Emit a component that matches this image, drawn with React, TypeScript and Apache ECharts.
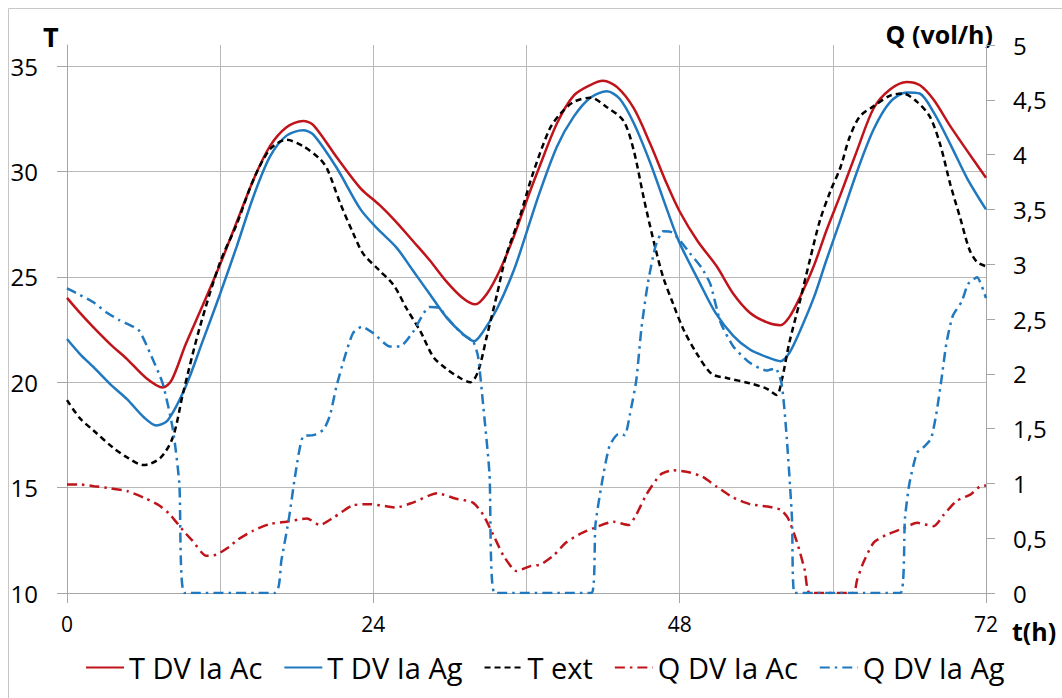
import React, { useEffect, useRef } from 'react';
import * as echarts from 'echarts';

// ---- data (hours, values) ----
const tTAc = [0, 1, 2, 3.4, 4.7, 6.2, 7.5, 8.2, 9.3, 10.6, 12, 13.3, 14.6, 15.9, 17.2, 18.5, 19.3, 21.1, 23, 24.5, 25.8, 27.1, 28.4, 29.7, 31, 32, 32.9, 33.9, 35, 36, 37, 38.4, 39.7, 41, 42, 43.1, 44.4, 45.7, 47, 48, 49.4, 50.9, 52.2, 53.5, 54.8, 55.9, 56.6, 57.4, 58.5, 59.5, 60.6, 61.9, 63.2, 64.5, 65.8, 66.8, 67.9, 69.2, 70.5, 72];
const vTAc = [24.0, 23.3, 22.65, 21.8, 21.1, 20.2, 19.75, 20.1, 21.8, 23.6, 25.6, 27.6, 29.6, 31.2, 32.1, 32.4, 32.2, 30.7, 29.2, 28.4, 27.6, 26.7, 25.8, 24.8, 24.0, 23.7, 24.2, 25.3, 26.9, 28.6, 30.2, 32.3, 33.6, 34.1, 34.3, 34.0, 33.0, 31.3, 29.4, 28.1, 26.7, 25.5, 24.2, 23.3, 22.85, 22.7, 23.1, 24.0, 25.5, 27.2, 28.9, 31.0, 33.0, 33.9, 34.25, 34.1, 33.4, 32.15, 31.0, 29.7];

const tTAg = [0, 1, 2.1, 3.4, 4.7, 6, 7, 7.9, 9.3, 10.6, 12, 13.3, 14.6, 15.9, 17.2, 18.5, 19.3, 21.1, 23, 24.3, 25.8, 27.1, 28.4, 29.7, 31, 31.9, 32.6, 33.7, 35, 36, 37, 38.4, 39.7, 41, 42.3, 43.3, 44.4, 45.7, 47, 48, 49.5, 50.8, 52.2, 53.5, 54.8, 55.9, 56.6, 57.4, 58.5, 59.5, 60.6, 61.9, 63.2, 64.5, 65.8, 66.8, 67.9, 69.2, 70.5, 72];
const vTAg = [22.05, 21.35, 20.7, 19.9, 19.2, 18.35, 17.95, 18.2, 19.8, 21.9, 24.2, 26.45, 28.8, 30.7, 31.7, 31.95, 31.75, 30.2, 28.2, 27.3, 26.4, 25.3, 24.2, 23.1, 22.3, 21.95, 22.4, 23.5, 25.3, 27.1, 28.95, 31.2, 32.6, 33.5, 33.8, 33.45, 32.3, 30.4, 28.2, 26.6, 24.8, 23.3, 22.2, 21.55, 21.2, 21.0, 21.4, 22.4, 24.0, 25.8, 27.7, 30.0, 32.0, 33.3, 33.75, 33.7, 32.8, 31.3, 29.7, 28.2];

const tText = [0, 1, 2.1, 3.6, 4.8, 6, 7.3, 8.3, 9.1, 10.4, 12, 13.3, 14.6, 15.9, 17.2, 18.5, 19.8, 20.4, 21.4, 22.4, 23.2, 24.4, 25.6, 26.6, 27.7, 28.7, 29.7, 30.8, 31.6, 32.2, 32.9, 33.7, 34.4, 35.5, 36.5, 37.8, 38.6, 39.7, 41, 42.3, 43.6, 44.4, 45.2, 46, 46.7, 47.5, 48.3, 49.3, 50.5, 51.7, 53.5, 54.8, 55.6, 56, 56.6, 57.4, 58.2, 59, 59.8, 60.6, 61.3, 62.1, 63.2, 64.5, 65.5, 66.6, 67.6, 68.4, 69.2, 70, 70.7, 71.3, 72];
const vText = [19.15, 18.3, 17.7, 16.9, 16.4, 16.07, 16.4, 17.4, 19.5, 22.6, 25.7, 27.5, 29.6, 31.05, 31.5, 31.2, 30.6, 30.1, 28.5, 27.1, 26.1, 25.35, 24.6, 23.5, 22.4, 21.2, 20.65, 20.2, 20.0, 20.5, 22.2, 24.2, 26.0, 27.9, 29.9, 32.0, 32.7, 33.3, 33.5, 33.05, 32.4, 31.0, 28.7, 26.6, 25.0, 23.7, 22.5, 21.4, 20.4, 20.2, 19.95, 19.7, 19.4, 20.1, 21.9, 23.8, 25.8, 27.7, 29.05, 30.2, 31.6, 32.6, 33.1, 33.6, 33.7, 33.3, 32.6, 31.3, 29.4, 27.75, 26.3, 25.7, 25.5];

const tQAc = [0, 1, 2.1, 3.4, 4.7, 6.2, 7.2, 8, 9.1, 9.8, 10.9, 11.7, 12.7, 13.3, 14.6, 15.9, 17.2, 18.8, 19.8, 20.9, 22.4, 23.8, 25.1, 25.8, 27.1, 29, 30.5, 31.8, 32.6, 33.4, 34.2, 35.2, 36.3, 37.1, 38.1, 39.1, 40.2, 41.2, 42.8, 44, 44.6, 45.4, 46.5, 47.5, 48.8, 49.8, 50.9, 52.2, 53.5, 54.8, 55.9, 56.5, 57.2, 57.8, 58.2, 61.6, 61.9, 62.4, 63.2, 64.2, 65.5, 66.6, 67.9, 68.7, 69.7, 70.8, 71.5, 72];
const vQAc = [0.99, 0.99, 0.975, 0.955, 0.93, 0.86, 0.8, 0.725, 0.57, 0.48, 0.34, 0.35, 0.42, 0.48, 0.57, 0.63, 0.65, 0.68, 0.62, 0.69, 0.8, 0.81, 0.79, 0.78, 0.825, 0.91, 0.86, 0.825, 0.715, 0.53, 0.34, 0.2, 0.245, 0.26, 0.34, 0.46, 0.54, 0.59, 0.65, 0.62, 0.715, 0.9, 1.08, 1.12, 1.1, 1.06, 0.97, 0.87, 0.81, 0.79, 0.76, 0.68, 0.46, 0.21, 0, 0, 0.12, 0.28, 0.46, 0.53, 0.59, 0.64, 0.61, 0.715, 0.84, 0.9, 0.97, 0.98];

const tQAg = [0, 1, 2.1, 3.1, 4.1, 5.6, 6.5, 7.5, 8.3, 8.8, 9.2, 16.3, 16.8, 17.4, 17.9, 18.5, 19.3, 20.1, 20.6, 21.1, 21.7, 22.4, 23.1, 24, 25.3, 26.1, 27.1, 28.4, 29.2, 29.7, 31, 31.8, 32.2, 32.6, 33.1, 33.5, 41.1, 41.4, 41.9, 42.5, 43.2, 43.7, 44.1, 44.6, 45, 45.5, 46.1, 46.7, 47.4, 48, 48.8, 49.7, 50.4, 51.2, 52.2, 53.5, 54.8, 55.5, 56, 56.4, 56.8, 57, 65.3, 65.65, 66, 66.6, 67.2, 67.7, 68.1, 68.5, 68.9, 69.4, 70.1, 70.6, 71.3, 72];
const vQAg = [2.78, 2.72, 2.65, 2.56, 2.49, 2.4, 2.19, 1.91, 1.49, 1.0, 0, 0, 0.3, 0.69, 1.09, 1.43, 1.44, 1.49, 1.62, 1.88, 2.13, 2.37, 2.43, 2.37, 2.25, 2.25, 2.38, 2.61, 2.6, 2.52, 2.36, 2.3, 2.16, 1.72, 1.09, 0, 0, 0.62, 1.0, 1.34, 1.45, 1.44, 1.63, 1.94, 2.41, 2.82, 3.16, 3.3, 3.29, 3.22, 3.1, 2.97, 2.82, 2.47, 2.25, 2.1, 2.03, 2.05, 1.9, 1.4, 0.68, 0, 0, 0.68, 1.0, 1.28, 1.34, 1.41, 1.63, 1.94, 2.28, 2.53, 2.66, 2.82, 2.88, 2.69];

const seriesNames = ['T DV Ia Ac', 'T DV Ia Ag', 'T ext', 'Q DV Ia Ac', 'Q DV Ia Ag'];
const xTicks = [0, 24, 48, 72];
const leftTicks = [10, 15, 20, 25, 30, 35];

const FONT = '"Open Sans", "DejaVu Sans", sans-serif';
const RED = '#c0141b';
const BLUE = '#2078bf';
const GRID = '#b8b8b8';
const AXIS = '#a6a6a6';

const zip = (t: number[], v: number[]) => t.map((x, i) => [x, v[i]]);

export default function App() {
  const ref = useRef<HTMLDivElement>(null);
  useEffect(() => {
    const chart = echarts.init(ref.current!, null, { renderer: 'svg' });
    const mk = (name: string, t: number[], v: number[], color: string, type: any, axis: number, smooth: number) => ({
      name,
      type: 'line',
      yAxisIndex: axis,
      data: zip(t, v),
      smooth,
      symbol: 'none',
      lineStyle: { color, width: 2.5, type },
      itemStyle: { color },
    });
    chart.setOption({
      animation: false,
      backgroundColor: '#ffffff',
      textStyle: { fontFamily: FONT },
      grid: { left: 67, top: 45, right: 76, bottom: 105, containLabel: false },
      legend: {
        left: 80,
        top: 648,
        itemWidth: 38,
        itemHeight: 14,
        itemGap: 21,
        data: seriesNames,
        itemStyle: { opacity: 0 },
        textStyle: { fontSize: 29, color: '#000', fontFamily: FONT },
      },
      xAxis: {
        type: 'value',
        min: xTicks[0],
        max: xTicks[xTicks.length - 1],
        interval: 24,
        axisLine: { show: true, lineStyle: { color: AXIS, width: 1 } },
        axisTick: { show: true, length: 10, lineStyle: { color: AXIS } },
        axisLabel: { fontSize: 21, color: '#000', margin: 20, fontFamily: FONT },
        splitLine: { show: true, lineStyle: { color: GRID, width: 1 } },
        minorTick: { show: false, splitNumber: 2 },
        minorSplitLine: { show: true, lineStyle: { color: GRID, width: 1 } },
      },
      yAxis: [
        {
          type: 'value',
          position: 'left',
          min: 10,
          max: 36,
          interval: 5,
          axisLine: { show: true, lineStyle: { color: AXIS, width: 1 } },
          axisTick: { show: true, length: 10, lineStyle: { color: AXIS }, customValues: leftTicks },
          axisLabel: { fontSize: 24, color: '#000', margin: 29, fontFamily: FONT, customValues: leftTicks },
          splitLine: { show: true, lineStyle: { color: GRID, width: 1 } },
        },
        {
          type: 'value',
          position: 'right',
          min: 0,
          max: 5,
          interval: 0.5,
          axisLine: { show: true, lineStyle: { color: AXIS, width: 1 } },
          axisTick: { show: true, length: 9, lineStyle: { color: AXIS } },
          axisLabel: {
            fontSize: 24,
            color: '#000',
            margin: 27,
            fontFamily: FONT,
            formatter: (v: number) => String(v).replace('.', ','),
          },
          splitLine: { show: false },
        },
      ],
      graphic: [
        {
          type: 'rect',
          z: -10,
          shape: { x: 8.5, y: 8.5, width: 1100, height: 1100 },
          style: { fill: 'none', stroke: '#c6c6c6', lineWidth: 1 },
        },
        {
          type: 'text',
          x: 43,
          y: 36,
          style: { text: 'T', fontSize: 27, fontWeight: 'bold', fontFamily: FONT, fill: '#000', verticalAlign: 'middle' },
        },
        {
          type: 'text',
          x: 993,
          y: 34,
          style: { text: 'Q (vol/h)', fontSize: 25, fontWeight: 'bold', fontFamily: FONT, fill: '#000', align: 'right', verticalAlign: 'middle' },
        },
        {
          type: 'text',
          x: 1012,
          y: 631,
          style: { text: 't(h)', fontSize: 25, fontWeight: 'bold', fontFamily: FONT, fill: '#000', verticalAlign: 'middle' },
        },
      ],
      series: [
        mk(seriesNames[0], tTAc, vTAc, RED, 'solid', 0, 0.3),
        mk(seriesNames[1], tTAg, vTAg, BLUE, 'solid', 0, 0.3),
        mk(seriesNames[2], tText, vText, '#000000', [6, 4], 0, 0.3),
        mk(seriesNames[3], tQAc, vQAc, RED, [10, 5, 2.5, 5], 1, 0.2),
        mk(seriesNames[4], tQAg, vQAg, BLUE, [10, 5, 2.5, 5], 1, 0.2),
      ],
    });
    return () => chart.dispose();
  }, []);
  return (
    <div
      ref={ref}
      style={{ position: 'fixed', left: 0, top: 0, width: 1062, height: 698, background: '#fff' }}
    />
  );
}
